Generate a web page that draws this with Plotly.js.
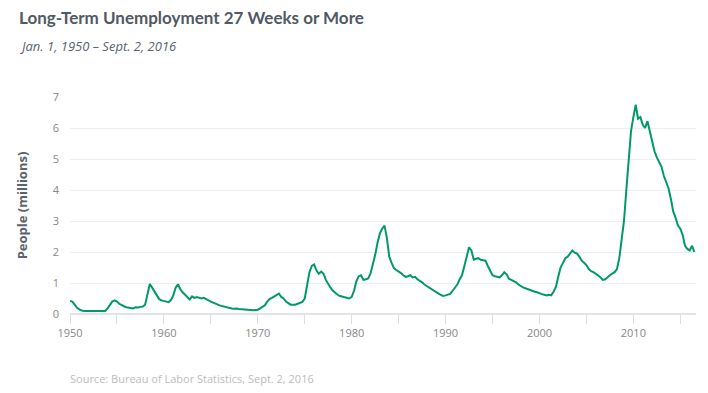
<!DOCTYPE html>
<html>
<head>
<meta charset="utf-8">
<script src="https://cdn.plot.ly/plotly-3.0.1.min.js"></script>
<style>html,body{margin:0;padding:0;background:#fff;}#chart{width:708px;height:393px;}</style>
</head>
<body>
<div id="chart"></div>
<script>
// Long-term unemployed (27 weeks or more), millions, sampled Jan/Apr/Jul/Oct
const years = [1950,1951,1952,1953,1954,1955,1956,1957,1958,1959,
  1960,1961,1962,1963,1964,1965,1966,1967,1968,1969,
  1970,1971,1972,1973,1974,1975,1976,1977,1978,1979,
  1980,1981,1982,1983,1984,1985,1986,1987,1988,1989,
  1990,1991,1992,1993,1994,1995,1996,1997,1998,1999,
  2000,2001,2002,2003,2004,2005,2006,2007,2008,2009,
  2010,2011,2012,2013,2014,2015,2016];
const sampleMonths = [1, 4, 7, 10];
const people = [
  [0.42,0.40,0.30,0.20],[0.15,0.11,0.10,0.10],[0.09,0.10,0.08,0.09],[0.08,0.09,0.08,0.10],
  [0.18,0.30,0.40,0.44],[0.40,0.33,0.28,0.25],[0.22,0.20,0.19,0.18],[0.22,0.21,0.23,0.24],
  [0.30,0.60,0.97,0.85],[0.72,0.58,0.48,0.44],[0.43,0.40,0.38,0.45],[0.60,0.85,0.96,0.80],
  [0.70,0.62,0.55,0.47],[0.57,0.52,0.55,0.53],[0.50,0.52,0.47,0.44],[0.40,0.36,0.33,0.30],
  [0.27,0.25,0.22,0.21],[0.20,0.18,0.17,0.18],[0.16,0.15,0.14,0.13],[0.12,0.13,0.12,0.13],
  [0.14,0.18,0.22,0.28],[0.40,0.48,0.52,0.56],[0.60,0.66,0.55,0.50],[0.40,0.34,0.30,0.30],
  [0.30,0.33,0.37,0.39],[0.50,0.90,1.35,1.55],[1.60,1.40,1.30,1.37],[1.30,1.10,0.95,0.85],
  [0.75,0.68,0.62,0.58],[0.56,0.55,0.52,0.50],[0.55,0.75,1.05,1.22],[1.25,1.10,1.12,1.15],
  [1.30,1.60,1.90,2.30],[2.60,2.75,2.85,2.45],[1.85,1.65,1.48,1.42],[1.38,1.32,1.25,1.20],
  [1.22,1.25,1.18,1.20],[1.12,1.08,1.02,0.95],[0.90,0.84,0.80,0.75],[0.70,0.66,0.62,0.58],
  [0.60,0.63,0.65,0.75],[0.85,0.95,1.12,1.25],[1.55,1.85,2.15,2.05],[1.75,1.78,1.80,1.75],
  [1.74,1.72,1.55,1.40],[1.25,1.22,1.20,1.18],[1.25,1.35,1.28,1.14],[1.10,1.06,1.02,0.95],
  [0.90,0.86,0.83,0.80],[0.76,0.74,0.72,0.70],[0.66,0.64,0.62,0.60],[0.62,0.60,0.72,0.87],
  [1.20,1.50,1.65,1.80],[1.85,1.95,2.05,1.98],[1.95,1.85,1.72,1.65],[1.58,1.45,1.38,1.35],
  [1.28,1.24,1.18,1.10],[1.12,1.20,1.25,1.30],[1.35,1.45,1.80,2.40],[3.00,4.00,5.10,5.90],
  [6.35,6.75,6.30,6.35],[6.10,6.00,6.22,5.90],[5.60,5.25,5.05,4.90],[4.75,4.45,4.25,4.05],
  [3.70,3.30,3.10,2.85],[2.75,2.55,2.20,2.10],[2.05,2.20,2.00]
];
const xTickVals = [1950,1955,1960,1965,1970,1975,1980,1985,1990,1995,2000,2005,2010,2015];
const xTickText = ["1950","","1960","","1970","","1980","","1990","","2000","","2010",""];
const yTickVals = [0,1,2,3,4,5,6,7];

const xs = [], ys = [];
years.forEach((yr, i) => {
  people[i].forEach((v, j) => { xs.push(yr + (sampleMonths[j] - 1) / 12); ys.push(v); });
});

const trace = {
  x: xs, y: ys, type: 'scatter', mode: 'lines',
  line: {color: '#009a66', width: 2},
  hoverinfo: 'skip'
};

const layout = {
  width: 708, height: 393,
  margin: {l: 70, r: 12, t: 97, b: 79},
  paper_bgcolor: '#fff', plot_bgcolor: '#fff',
  font: {family: 'Open Sans, sans-serif', color: '#888'},
  showlegend: false,
  xaxis: {
    range: [1950, 2016.67], tickvals: xTickVals, ticktext: xTickText,
    ticks: 'outside', ticklen: 9, tickcolor: '#dddddd', tickwidth: 1,
    showgrid: false, zeroline: false, showline: false,
    tickfont: {size: 11, color: '#888'}, fixedrange: true
  },
  yaxis: {
    range: [0, 7], tickvals: yTickVals,
    showgrid: true, gridcolor: '#eeeeee', gridwidth: 1,
    zeroline: true, zerolinecolor: '#e3e3e3', zerolinewidth: 2,
    ticks: '', ticklabelstandoff: 10,
    tickfont: {size: 11, color: '#888'},
    title: {text: 'People (millions)', font: {size: 13, color: '#5a6470', family: 'Open Sans, sans-serif', weight: 'bold'}, standoff: 22},
    fixedrange: true
  },
  annotations: [
    {text: '<b>Long-Term Unemployment 27 Weeks or More</b>', xref: 'paper', yref: 'paper',
     x: (17-70)/626, xanchor: 'left', y: 1 + (97-17)/217, yanchor: 'middle', showarrow: false,
     font: {size: 17, color: '#505a64', family: 'Lato, sans-serif'}},
    {text: '<i>Jan. 1, 1950 – Sept. 2, 2016</i>', xref: 'paper', yref: 'paper',
     x: (17-70)/626, xanchor: 'left', y: 1 + (97-46)/217, yanchor: 'middle', showarrow: false,
     font: {size: 13, color: '#5a6470', family: 'Open Sans, sans-serif'}},
    {text: 'Source: Bureau of Labor Statistics, Sept. 2, 2016', xref: 'paper', yref: 'paper',
     x: -2/626, xanchor: 'left', y: -(378-314)/217, yanchor: 'middle', showarrow: false,
     font: {size: 11, color: '#bdbdbd', family: 'Open Sans, sans-serif'}}
  ]
};

Plotly.newPlot('chart', [trace], layout, {displayModeBar: false, staticPlot: true});
</script>
</body>
</html>
